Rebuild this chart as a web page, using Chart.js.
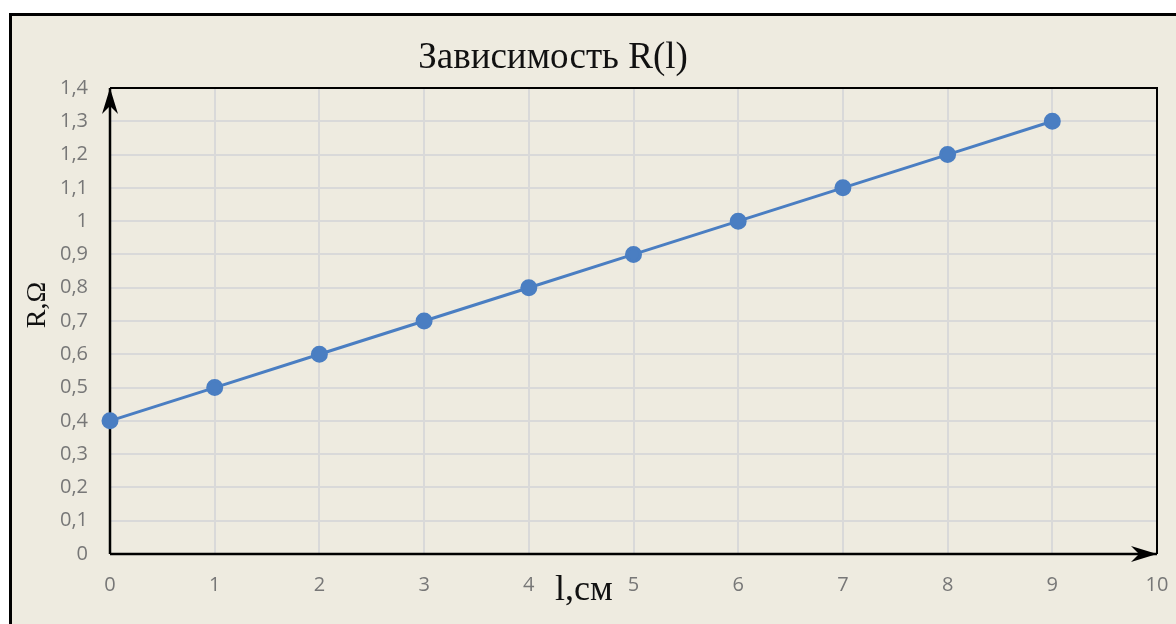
<!DOCTYPE html>
<html>
<head>
<meta charset="utf-8">
<script src="https://cdn.jsdelivr.net/npm/chart.js@4"></script>
<style>
  html, body { margin: 0; padding: 0; background: #fff; overflow: hidden; }
  .frame {
    position: absolute; left: 9px; top: 13px; width: 1220px; height: 700px;
    border: 3px solid #000; background: #eeebe0; box-sizing: border-box;
  }
  #chart { position: absolute; left: 0; top: 0; }
</style>
</head>
<body>
<div class="frame"></div>
<canvas id="chart" width="1176" height="624"></canvas>
<script>
const lengths = [0, 1, 2, 3, 4, 5, 6, 7, 8, 9];
const resistance = [0.4, 0.5, 0.6, 0.7, 0.8, 0.9, 1.0, 1.1, 1.2, 1.3];
const xTickLabels = ['0', '1', '2', '3', '4', '5', '6', '7', '8', '9', '10'];
const yTickLabels = ['0', '0,1', '0,2', '0,3', '0,4', '0,5', '0,6', '0,7', '0,8', '0,9', '1', '1,1', '1,2', '1,3', '1,4'];

const titleText = 'Зависимость R(l)';
const xAxisText = 'l,см';
const yAxisText = 'R,Ω';

const tickFont = { family: 'Open Sans', size: 20 };
const tickColor = '#777';

function drawArrow(ctx, x, y, angle) {
  ctx.save();
  ctx.translate(x, y);
  ctx.rotate(angle);
  ctx.beginPath();
  ctx.moveTo(0, 0);
  ctx.lineTo(-26, -8);
  ctx.lineTo(-18, 0);
  ctx.lineTo(-26, 8);
  ctx.closePath();
  ctx.fillStyle = '#000';
  ctx.fill();
  ctx.restore();
}

const framePlugin = {
  id: 'frame',
  beforeDatasetsDraw(chart) {
    const { ctx, chartArea } = chart;
    const { left, right, top, bottom } = chartArea;
    ctx.save();
    ctx.strokeStyle = '#000';
    ctx.lineWidth = 2;
    ctx.beginPath();
    ctx.moveTo(left, top);
    ctx.lineTo(right, top);
    ctx.lineTo(right, bottom);
    ctx.stroke();
    ctx.lineWidth = 2.5;
    ctx.beginPath();
    ctx.moveTo(left, bottom);
    ctx.lineTo(left, top);
    ctx.moveTo(left, bottom);
    ctx.lineTo(right, bottom);
    ctx.stroke();
    ctx.restore();
    drawArrow(ctx, left, top, -Math.PI / 2);
    drawArrow(ctx, right, bottom, 0);
  },
  afterDraw(chart) {
    const { ctx } = chart;
    ctx.save();
    ctx.fillStyle = '#111';
    ctx.textAlign = 'center';
    ctx.textBaseline = 'alphabetic';
    ctx.font = '37px "Liberation Serif"';
    ctx.fillText(titleText, 553, 68);
    ctx.font = '36px "Liberation Serif"';
    ctx.fillText(xAxisText, 584, 600);
    ctx.translate(45, 305);
    ctx.rotate(-Math.PI / 2);
    ctx.font = '28px "Liberation Serif"';
    ctx.fillText(yAxisText, 0, 0);
    ctx.restore();
  }
};

new Chart(document.getElementById('chart'), {
  type: 'line',
  data: {
    datasets: [
      {
        data: lengths.map((l, i) => ({ x: l, y: resistance[i] })),
        borderColor: '#4a7ec2',
        backgroundColor: '#4a7ec2',
        borderWidth: 3,
        pointRadius: 7,
        pointHoverRadius: 7,
        tension: 0,
        clip: false,
      },
    ],
  },
  options: {
    responsive: false,
    animation: false,
    events: [],
    layout: { padding: { left: 0, top: 88, right: 19, bottom: 0 } },
    plugins: {
      legend: { display: false },
      tooltip: { enabled: false },
    },
    scales: {
      x: {
        type: 'linear',
        min: 0,
        max: 10,
        afterFit: (scale) => {
          scale.height = 70;
          scale.paddingLeft = 0;
          scale.paddingRight = 0;
        },
        ticks: {
          stepSize: 1,
          padding: 19,
          color: tickColor,
          font: tickFont,
          callback: (value, index) => xTickLabels[index],
        },
        grid: { color: '#d9d9d9', lineWidth: 2, drawTicks: false },
        border: { display: false },
      },
      y: {
        min: 0,
        max: 1.4,
        afterFit: (scale) => {
          scale.width = 110;
          scale.paddingTop = 0;
          scale.paddingBottom = 0;
        },
        ticks: {
          stepSize: 0.1,
          padding: 22,
          color: tickColor,
          font: tickFont,
          callback: (value, index) => yTickLabels[index],
        },
        grid: { color: '#d9d9d9', lineWidth: 2, drawTicks: false },
        border: { display: false },
      },
    },
  },
  plugins: [framePlugin],
});
</script>
</body>
</html>
